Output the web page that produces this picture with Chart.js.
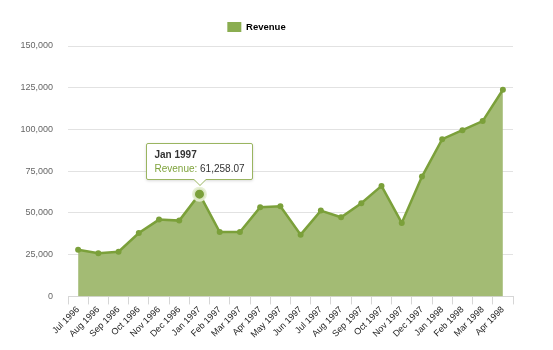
<!DOCTYPE html>
<html>
<head>
<meta charset="utf-8">
<script src="https://cdn.jsdelivr.net/npm/chart.js@4/dist/chart.umd.min.js"></script>
<style>
  html, body { margin: 0; padding: 0; background: #fff; }
  #wrap { position: relative; width: 553px; height: 350px; }
  #tip {
    position: absolute; pointer-events: none; display: none;
    background: #fff; border: 1px solid #9ab560; border-radius: 2px;
    box-shadow: 0 1px 3px rgba(0,0,0,0.15);
    font-family: "Liberation Sans", Arial, sans-serif; font-size: 10px;
    padding: 5px 7px; white-space: nowrap;
  }
  #tip .t { font-weight: bold; color: #333; margin-bottom: 3px; }
  #tip .k { color: #7fa33c; }
  #tip .v { color: #333; }
  #tip:after, #tip:before {
    content: ""; position: absolute; left: 50%; top: 100%;
    border: solid transparent;
  }
  #tip:before { border-width: 7px; margin-left: -7px; border-top-color: #9ab560; }
  #tip:after { border-width: 6px; margin-left: -6px; border-top-color: #fff; }
</style>
</head>
<body>
<div id="wrap">
  <canvas id="chart" width="553" height="350"></canvas>
  <div id="tip"></div>
</div>
<script>
const months = ['Jul 1996', 'Aug 1996', 'Sep 1996', 'Oct 1996', 'Nov 1996', 'Dec 1996',
  'Jan 1997', 'Feb 1997', 'Mar 1997', 'Apr 1997', 'May 1997', 'Jun 1997', 'Jul 1997',
  'Aug 1997', 'Sep 1997', 'Oct 1997', 'Nov 1997', 'Dec 1997', 'Jan 1998', 'Feb 1998',
  'Mar 1998', 'Apr 1998'];
const revenue = [28000, 25800, 26800, 38000, 46000, 45400, 61258.07, 38600, 38600, 53400,
  54000, 37000, 51400, 47400, 55800, 66200, 44000, 71800, 94200, 99600, 105000, 123800];
const yTicks = [0, 25000, 50000, 75000, 100000, 125000, 150000];
const activeIndex = 6;

const fmt = (v, d) => v.toLocaleString('en-US', { minimumFractionDigits: d, maximumFractionDigits: d });

function externalTip(context) {
  const tip = document.getElementById('tip');
  const t = context.tooltip;
  if (t.opacity === 0 || !t.dataPoints || !t.dataPoints.length) {
    tip.style.display = 'none';
    return;
  }
  const p = t.dataPoints[0];
  tip.innerHTML = '<div class="t">' + p.label + '</div>' +
    '<span class="k">' + p.dataset.label + ':</span> <span class="v">' + fmt(p.raw, 2) + '</span>';
  tip.style.display = 'block';
  tip.style.left = (t.caretX - tip.offsetWidth / 2) + 'px';
  tip.style.top = (t.caretY - tip.offsetHeight - 14) + 'px';
}

// a little extra room under the legend
const legendGap = {
  id: 'legendGap',
  beforeInit(chart) {
    const fit = chart.legend.fit;
    chart.legend.fit = function () {
      fit.call(this);
      this.height += 4;
    };
  }
};

const ctx = document.getElementById('chart').getContext('2d');
const chart = new Chart(ctx, {
  type: 'line',
  data: {
    labels: months,
    datasets: [{
      label: 'Revenue',
      data: revenue,
      fill: 'origin',
      backgroundColor: '#a3bb74',
      borderColor: '#7ba03a',
      borderWidth: 2.5,
      tension: 0,
      pointRadius: 3,
      pointBackgroundColor: '#7ba03a',
      pointBorderWidth: 0,
      pointHoverRadius: 6,
      pointHoverBackgroundColor: '#7ba03a',
      pointHoverBorderColor: 'rgba(230,238,210,0.9)',
      pointHoverBorderWidth: 3
    }]
  },
  plugins: [legendGap],
  options: {
    responsive: false,
    animation: false,
    layout: { padding: { left: 0, right: 40, top: 8, bottom: 10 } },
    plugins: {
      legend: {
        position: 'top',
        labels: {
          boxWidth: 14, boxHeight: 10, padding: 14,
          color: '#222',
          font: { family: 'Liberation Sans', size: 9.5, weight: 'bold' },
          generateLabels: (c) => [{
            text: 'Revenue', fillStyle: '#8aad50', strokeStyle: '#8aad50',
            lineWidth: 0, datasetIndex: 0
          }]
        }
      },
      tooltip: { enabled: false, external: externalTip }
    },
    scales: {
      x: {
        offset: true,
        grid: { offset: true, drawOnChartArea: false, tickLength: 8, color: '#d6d6d6' },
        border: { display: true, color: '#d6d6d6' },
        ticks: {
          minRotation: 45, maxRotation: 45, autoSkip: false, padding: 0,
          color: '#222', font: { family: 'Liberation Sans', size: 9 }
        }
      },
      y: {
        min: 0, max: 150000,
        afterBuildTicks: (axis) => { axis.ticks = yTicks.map(v => ({ value: v })); },
        afterFit: (axis) => { axis.width = 68; },
        grid: { color: '#e2e2e2', drawTicks: false },
        border: { display: false },
        ticks: {
          padding: 15, color: '#666',
          font: { family: 'Liberation Sans', size: 9 },
          callback: (v) => fmt(v, 0)
        }
      }
    }
  }
});

// show the Jan 1997 point as the hovered one
const pt = chart.getDatasetMeta(0).data[activeIndex];
chart.setActiveElements([{ datasetIndex: 0, index: activeIndex }]);
chart.tooltip.setActiveElements([{ datasetIndex: 0, index: activeIndex }], { x: pt.x, y: pt.y });
chart.update();
</script>
</body>
</html>
